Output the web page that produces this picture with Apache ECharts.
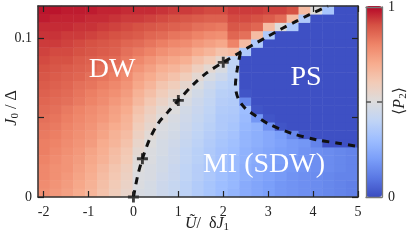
<!DOCTYPE html>
<html><head><meta charset="utf-8">
<script src="https://cdn.jsdelivr.net/npm/echarts@6/dist/echarts.min.js"></script>
<style>html,body{margin:0;padding:0;background:#fff}#c{width:411px;height:245px}</style>
</head><body><div id="c"></div>
<script>
// column centres (U/dJ1) and row centres (J0/Delta) of the heat-map cells
const uCenters = [-1.99,-1.73,-1.47,-1.20,-0.94,-0.67,-0.41,-0.15,0.12,0.38,0.65,0.91,1.17,1.44,1.70,1.97,2.23,2.49,2.76,3.02,3.29,3.55,3.81,4.08,4.34,4.60,4.87];
const jCenters = [0.0026,0.0078,0.0130,0.0183,0.0235,0.0287,0.0339,0.0391,0.0443,0.0496,0.0548,0.0600,0.0652,0.0704,0.0757,0.0809,0.0861,0.0913,0.0965,0.1017,0.1070,0.1122,0.1174];
// <P2> in percent, one array per column, from bottom row to top row
const p2Columns = [
 [77,78,79,79,80,81,81,82,83,84,85,86,87,88,89,90,91,92,93,94,95,97,98],
 [75,76,77,77,78,79,80,81,82,83,84,85,86,87,88,89,90,91,93,94,95,96,98],
 [73,74,75,76,76,77,78,79,80,81,82,84,85,86,87,88,90,91,92,93,95,96,97],
 [70,71,72,73,74,75,76,77,78,79,80,82,83,84,86,87,88,90,91,93,94,96,97],
 [67,68,69,70,71,72,74,75,76,77,78,80,81,83,84,86,87,89,90,92,94,95,97],
 [63,64,65,66,68,69,70,72,73,75,76,78,79,81,83,84,86,88,89,91,93,95,96],
 [59,60,61,62,64,65,67,68,70,72,73,75,77,79,81,83,85,87,88,90,92,94,96],
 [55,56,57,58,60,61,63,65,67,68,70,72,74,76,78,80,82,84,86,89,91,93,95],
 [48,49,49,50,51,53,55,57,59,61,63,66,68,71,73,76,79,82,85,88,90,93,95],
 [47,47,48,48,49,49,50,52,54,56,58,61,64,67,70,73,76,80,83,86,89,92,95],
 [44,44,45,46,46,47,47,48,49,51,53,56,59,62,66,69,73,77,81,85,88,91,94],
 [42,42,43,43,44,44,45,46,47,48,50,52,55,59,63,67,71,75,79,83,87,90,93],
 [39,39,40,40,41,41,42,43,44,45,46,48,50,54,59,64,69,74,78,82,86,89,93],
 [36,36,37,37,38,38,39,40,41,42,43,44,46,49,53,58,64,70,75,80,84,88,92],
 [33,33,34,34,35,35,36,37,38,39,40,41,42,44,48,53,60,67,73,78,83,87,91],
 [30,30,31,31,32,32,33,34,35,35,36,37,38,40,44,48,54,63,71,77,82,87,91],
 [27,28,28,29,29,30,31,32,33,34,35,36,37,38,39,40,40,65,80,86,89,91,93],
 [24,24,25,25,26,26,27,27,28,29,30,14,2,1,1,1,1,35,65,84,88,91,93],
 [22,22,23,23,24,24,25,25,26,18,2,1,1,1,1,1,1,1,35,65,86,90,93],
 [20,20,21,21,22,22,23,23,17,2,1,1,1,1,1,1,1,1,1,35,65,88,92],
 [18,18,19,19,20,20,21,20,2,1,1,1,1,1,1,1,1,1,1,1,50,85,92],
 [17,17,17,18,18,19,19,14,1,1,1,1,1,1,1,1,1,1,1,1,35,65,90],
 [16,16,16,17,17,17,18,2,1,1,1,1,1,1,1,1,1,1,1,1,1,35,65],
 [15,15,15,16,16,16,13,1,1,1,1,1,1,1,1,1,1,1,1,1,1,1,50],
 [14,14,14,15,15,15,1,1,1,1,1,1,1,1,1,1,1,1,1,1,1,1,33],
 [13,13,13,14,14,14,1,1,1,1,1,1,1,1,1,1,1,1,1,1,1,1,1],
 [12,12,13,13,13,13,1,1,1,1,1,1,1,1,1,1,1,1,1,1,1,1,1]
];
// dashed phase boundaries
const dwLineU = [0,0.09,0.2,0.37,0.56,0.78,1,1.33,1.63,2,2.35,2.67,3.0,3.3,3.63,3.93,4.3,4.33];
const dwLineJ = [0,0.0128,0.024,0.037,0.0466,0.0538,0.0607,0.0706,0.078,0.0846,0.0905,0.0958,0.101,0.1057,0.1105,0.1147,0.1196,0.12];
const psLineU = [2.38,2.31,2.27,2.33,2.48,2.74,3.0,3.52,4.07,4.56,5.0];
const psLineJ = [0.0905,0.08,0.07,0.062,0.056,0.0506,0.046,0.040,0.036,0.0338,0.0318];
// plus markers
const crossU = [0,0.2,1,2];
const crossJ = [0,0.024,0.0607,0.0846];
// ticks
const xTicks = [-2,-1,0,1,2,3,4,5];
const yTickVals = [0,0.05,0.1];
const yLabelVals = [0,0.1];
const cbLabelVals = [0,1];
const cbMarkVals = [0.5];

const coolwarm = ['#3b4cc0','#5a78e4','#7b9ff9','#9ebeff','#c0d4f5','#dddcdc','#f2cbb7','#f7ac8e','#ee8468','#d65244','#b40426'];
const SERIF = 'Liberation Serif, DejaVu Serif, serif';

const heatData = [];
p2Columns.forEach((col, i) => col.forEach((v, j) => heatData.push([i, j, v / 100])));
const zip = (a, b) => a.map((v, i) => [v, b[i]]);

const frame = {show:true, onZero:false, lineStyle:{color:'#333', width:1.5}};
const cbFrame = {show:true, onZero:false, lineStyle:{color:'#777', width:1.3}};
const tickStyle = {color:'#222', width:1.2};

const chart = echarts.init(document.getElementById('c'), null, {renderer:'canvas'});
chart.setOption({
  animation:false,
  grid:[
    {left:38, top:6, width:320, height:191},
    {left:366, top:6, width:16, height:191}
  ],
  xAxis:[
    {type:'category', gridIndex:0, data:uCenters.map(String), show:false},
    {type:'value', gridIndex:0, min:-2.125, max:5, position:'bottom', z:10,
     axisLine:frame, splitLine:{show:false},
     axisTick:{show:true, inside:true, length:6, customValues:xTicks, lineStyle:tickStyle},
     axisLabel:{customValues:xTicks, fontFamily:SERIF, fontSize:14, color:'#222', margin:8}},
    {type:'value', gridIndex:0, min:-2.125, max:5, position:'top', z:10,
     axisLine:frame, splitLine:{show:false},
     axisTick:{show:true, inside:true, length:6, customValues:xTicks, lineStyle:tickStyle},
     axisLabel:{show:false}},
    {type:'value', gridIndex:1, min:0, max:1, position:'bottom', z:10, axisLine:cbFrame,
     axisTick:{show:false}, axisLabel:{show:false}, splitLine:{show:false}},
    {type:'value', gridIndex:1, min:0, max:1, position:'top', z:10, axisLine:cbFrame,
     axisTick:{show:false}, axisLabel:{show:false}, splitLine:{show:false}}
  ],
  yAxis:[
    {type:'category', gridIndex:0, data:jCenters.map(String), show:false},
    {type:'value', gridIndex:0, min:0, max:0.12, position:'left', z:10,
     axisLine:frame, splitLine:{show:false},
     axisTick:{show:true, inside:true, length:6, customValues:yTickVals, lineStyle:tickStyle},
     axisLabel:{customValues:yLabelVals, fontFamily:SERIF, fontSize:14, color:'#222', margin:6}},
    {type:'value', gridIndex:0, min:0, max:0.12, position:'right', z:10,
     axisLine:frame, splitLine:{show:false},
     axisTick:{show:true, inside:true, length:6, customValues:yTickVals, lineStyle:tickStyle},
     axisLabel:{show:false}},
    {type:'value', gridIndex:1, min:0, max:1, position:'right', z:10,
     axisLine:cbFrame, splitLine:{show:false},
     axisTick:{show:true, inside:true, length:5, customValues:cbMarkVals, lineStyle:{color:'#555', width:1.5}},
     axisLabel:{customValues:cbLabelVals, fontFamily:SERIF, fontSize:14, color:'#222', margin:6}},
    {type:'value', gridIndex:1, min:0, max:1, position:'left', z:10,
     axisLine:cbFrame, splitLine:{show:false},
     axisTick:{show:true, inside:true, length:5, customValues:cbMarkVals, lineStyle:{color:'#555', width:1.5}},
     axisLabel:{show:false}}
  ],
  visualMap:{type:'continuous', min:0, max:1, seriesIndex:0, dimension:2,
    inRange:{color:coolwarm}, orient:'vertical', left:366, top:6, itemWidth:16, itemHeight:191,
    padding:0, calculable:false, hoverLink:false, z:4},
  series:[
    {type:'heatmap', xAxisIndex:0, yAxisIndex:0, data:heatData, emphasis:{disabled:true}, itemStyle:{borderWidth:0}},
    {type:'line', xAxisIndex:1, yAxisIndex:1, data:zip(dwLineU, dwLineJ), smooth:0.3, symbol:'none', z:5,
     lineStyle:{color:'#111', width:3, type:[7,6]}},
    {type:'line', xAxisIndex:1, yAxisIndex:1, data:zip(psLineU, psLineJ), smooth:0.3, symbol:'none', z:5,
     lineStyle:{color:'#111', width:3, type:[7,6]}},
    {type:'scatter', xAxisIndex:1, yAxisIndex:1, data:zip(crossU, crossJ), clip:false, z:6,
     symbol:'path://M3.7,0h2.6v3.7h3.7v2.6h-3.7v3.7h-2.6v-3.7h-3.7v-2.6h3.7z', symbolSize:11,
     itemStyle:{color:'#111'}}
  ],
  graphic:[
    {type:'text', x:112, y:70, z:20, style:{text:'DW', fontFamily:SERIF, fontSize:28, fill:'#fff', align:'center', verticalAlign:'middle'}},
    {type:'text', x:306, y:78, z:20, style:{text:'PS', fontFamily:SERIF, fontSize:28, fill:'#fff', align:'center', verticalAlign:'middle'}},
    {type:'text', x:264, y:165, z:20, style:{text:'MI (SDW)', fontFamily:SERIF, fontSize:28, fill:'#fff', align:'center', verticalAlign:'middle'}},
    {type:'text', x:207, y:224, z:20, style:{text:'{i|Ũ}{n|/  δ}{i|J}{s|1}', align:'center', verticalAlign:'middle', fill:'#222',
      rich:{i:{fontFamily:SERIF, fontStyle:'italic', fontSize:16, lineHeight:18, fill:'#222'},
            n:{fontFamily:SERIF, fontSize:16, lineHeight:18, fill:'#222'},
            s:{fontFamily:SERIF, fontSize:11, lineHeight:11, verticalAlign:'bottom', fill:'#222'}}}},
    {type:'text', x:12, y:108, z:20, rotation:Math.PI/2, style:{text:'{i|J}{s|0}{n| / Δ}', align:'center', verticalAlign:'middle', fill:'#222',
      rich:{i:{fontFamily:SERIF, fontStyle:'italic', fontSize:16, lineHeight:18, fill:'#222'},
            n:{fontFamily:SERIF, fontSize:16, lineHeight:18, fill:'#222'},
            s:{fontFamily:SERIF, fontSize:11, lineHeight:11, verticalAlign:'bottom', fill:'#222'}}}},
    {type:'text', x:400, y:101, z:20, rotation:Math.PI/2, style:{text:'{n|⟨}{i|P}{s|2}{n|⟩}', align:'center', verticalAlign:'middle', fill:'#222',
      rich:{i:{fontFamily:SERIF, fontStyle:'italic', fontSize:16, lineHeight:18, fill:'#222'},
            n:{fontFamily:SERIF, fontSize:16, lineHeight:18, fill:'#222'},
            s:{fontFamily:SERIF, fontSize:11, lineHeight:11, verticalAlign:'bottom', fill:'#222'}}}}
  ]
});
</script>
</body></html>
